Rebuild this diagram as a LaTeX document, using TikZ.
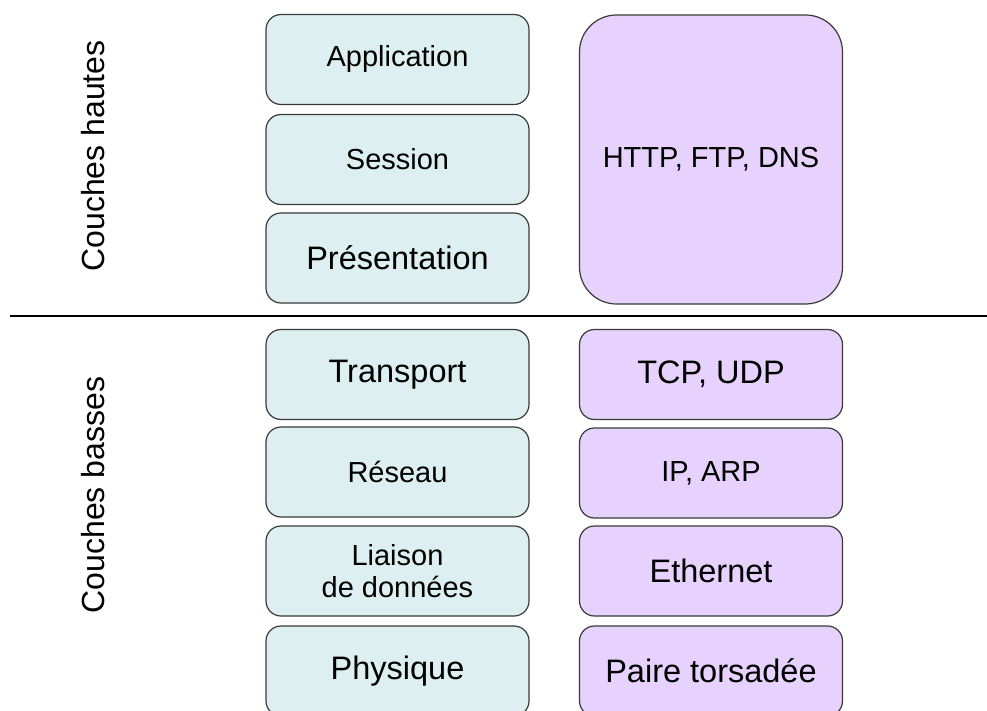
\documentclass[tikz,border=0pt]{standalone}
\usepackage{fontspec}
\setmainfont{Liberation Sans}
\definecolor{lcyan}{HTML}{DDEFF1}
\definecolor{lviolet}{HTML}{E6D2FC}
\definecolor{bord}{HTML}{3A3A3A}
\begin{document}
\begin{tikzpicture}[x=1pt,y=-1pt,
  layer/.style={draw=bord, line width=1.2pt, rounded corners=15pt, minimum width=263pt, minimum height=90pt, inner sep=0pt, align=center, font=\fontsize{29}{32}\selectfont},
  osi/.style={layer, fill=lcyan},
  proto/.style={layer, fill=lviolet},
  bigtxt/.style={font=\fontsize{32.5}{38}\selectfont},
  side/.style={rotate=90, font=\fontsize{32}{36}\selectfont}]
\useasboundingbox (0,0) rectangle (987,711);
\clip (0,0) rectangle (987,711);
\fill[white] (0,0) rectangle (987,711);
% left column
\node[osi] (app) at (397.5,59.5) {Application};
\node[osi] (ses) at (397.5,159.5) {Session};
\node[osi,bigtxt] (pre) at (397.5,258) {Présentation};
\node[osi,bigtxt] (tra) at (397.5,374.5) {Transport};
\node[osi] (res) at (397.5,472) {Réseau};
\node[osi] (lia) at (397.5,571) {Liaison\\de données};
\node[osi,bigtxt] (phy) at (397.5,671) {Physique};
% right column
\node[proto, rounded corners=37pt, minimum height=289pt] (http) at (711,159.5) {HTTP, FTP, DNS};
\node[proto,bigtxt] (tcp) at (711,374.5) {TCP, UDP};
\node[proto] (ip) at (711,473) {IP, ARP};
\node[proto,bigtxt] (eth) at (711,571) {Ethernet};
\node[proto,bigtxt] (pai) at (711,671) {Paire torsadée};
% side labels
\node[side] (hautes) at (93,156) {Couches hautes};
\node[side] (basses) at (93,495) {Couches basses};
% separator
\coordinate (sepL) at (10,316);
\coordinate (sepR) at (987,316);
\draw[line width=1.6pt] (sepL) -- (sepR);
\end{tikzpicture}
\end{document}
